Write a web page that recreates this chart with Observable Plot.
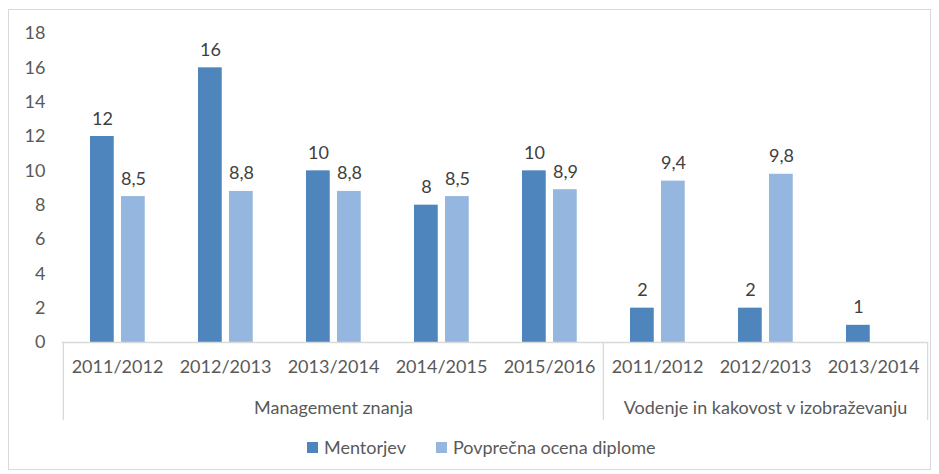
<!DOCTYPE html>
<html>
<head>
<meta charset="utf-8">
<script src="https://cdn.jsdelivr.net/npm/d3@7"></script>
<script src="https://cdn.jsdelivr.net/npm/@observablehq/plot@0.6"></script>
<style>
  html, body { margin: 0; padding: 0; background: #fff; }
  body { width: 939px; height: 474px; position: relative; overflow: hidden; font-family: Lato, "Noto Sans", sans-serif; }
  #frame { position: absolute; left: 8px; top: 9px; width: 923px; height: 461px; border: 1px solid #d9d9d9; box-sizing: border-box; }
  #chart { position: absolute; left: 0; top: 0; }
  #legend { position: absolute; left: 307px; top: 436px; display: flex; align-items: center; font-size: 18px; color: #595959; }
  .item { display: flex; align-items: center; margin-right: 30px; }
  .sw { width: 11px; height: 11px; margin-right: 6px; }
</style>
</head>
<body>
<div id="frame"></div>
<div id="chart"></div>
<div id="legend"></div>
<script>
const groupNames = ["Management znanja", "Vodenje in kakovost v izobraževanju"];
const years = ["2011/2012", "2012/2013", "2013/2014", "2014/2015", "2015/2016", "2011/2012", "2012/2013", "2013/2014"];
const groupOf = [0, 0, 0, 0, 0, 1, 1, 1];
const mentorjev = [12, 16, 10, 8, 10, 2, 2, 1];
const ocena = [8.5, 8.8, 8.8, 8.5, 8.9, 9.4, 9.8, null];
const seriesNames = ["Mentorjev", "Povprečna ocena diplome"];
const seriesColors = ["#4F85BD", "#95B7DF"];
const yTicks = [0, 2, 4, 6, 8, 10, 12, 14, 16, 18];

const keys = years.map((y, i) => groupNames[groupOf[i]] + "|" + y);
const rowsM = keys.map((k, i) => ({key: k, value: mentorjev[i]}));
const rowsO = keys.map((k, i) => ({key: k, value: ocena[i]})).filter(d => d.value != null);
const fmt = v => String(v).replace(".", ",");

const W = 939, H = 430, mL = 62, mR = 11, mT = 33, mB = 88;
const bw = (W - mL - mR) / keys.length;
const FS = 18;

const groupMid = groupNames.map((g, gi) => {
  const idx = groupOf.map((v, i) => v === gi ? i : -1).filter(i => i >= 0);
  return {key: keys[idx[Math.floor(idx.length / 2)]], name: g};
});
const groupStarts = groupNames.map((g, gi) => keys[groupOf.indexOf(gi)]);
const lastKey = keys[keys.length - 1];

const chart = Plot.plot({
  width: W,
  height: H,
  marginLeft: mL,
  marginRight: mR,
  marginTop: mT,
  marginBottom: mB,
  style: {fontFamily: "Lato, 'Noto Sans', sans-serif", fontSize: FS + "px", background: "transparent", overflow: "visible"},
  x: {type: "band", domain: keys, padding: 0, axis: null},
  y: {domain: [0, 18], axis: null},
  marks: [
    Plot.barY(rowsM, {x: "key", y: "value", fill: seriesColors[0], insetLeft: 27, insetRight: bw - 51}),
    Plot.barY(rowsO, {x: "key", y: "value", fill: seriesColors[1], insetLeft: 58, insetRight: bw - 82}),
    Plot.text(rowsM, {x: "key", y: "value", text: d => fmt(d.value), dx: -15, dy: -12, lineAnchor: "bottom", fill: "#404040", fontSize: FS}),
    Plot.text(rowsO, {x: "key", y: "value", text: d => fmt(d.value), dx: 16, dy: -12, lineAnchor: "bottom", fill: "#404040", fontSize: FS}),
    Plot.ruleY([0], {stroke: "#d9d9d9", strokeWidth: 1.3}),
    Plot.ruleX(groupStarts, {x: d => d, y1: 0, y2: -4.55, dx: -bw / 2, stroke: "#d9d9d9", strokeWidth: 1.3, clip: false}),
    Plot.ruleX([lastKey], {x: d => d, y1: 0, y2: -4.55, dx: bw / 2, stroke: "#d9d9d9", strokeWidth: 1.3, clip: false}),
    Plot.axisX({tickSize: 0, tickPadding: 18, tickFormat: k => k.split("|")[1], fill: "#595959", fontSize: FS, label: null}),
    Plot.axisY({ticks: yTicks, tickSize: 0, tickPadding: 17, fill: "#595959", fontSize: FS, label: null}),
    Plot.text(groupMid, {x: "key", frameAnchor: "bottom", text: "name", dy: 66, lineAnchor: "middle", fill: "#595959", fontSize: FS})
  ]
});
document.getElementById("chart").appendChild(chart);

const leg = document.getElementById("legend");
seriesNames.forEach((n, i) => {
  const it = document.createElement("div");
  it.className = "item";
  const sw = document.createElement("div");
  sw.className = "sw";
  sw.style.background = seriesColors[i];
  const t = document.createElement("span");
  t.textContent = n;
  it.appendChild(sw);
  it.appendChild(t);
  leg.appendChild(it);
});
</script>
</body>
</html>
